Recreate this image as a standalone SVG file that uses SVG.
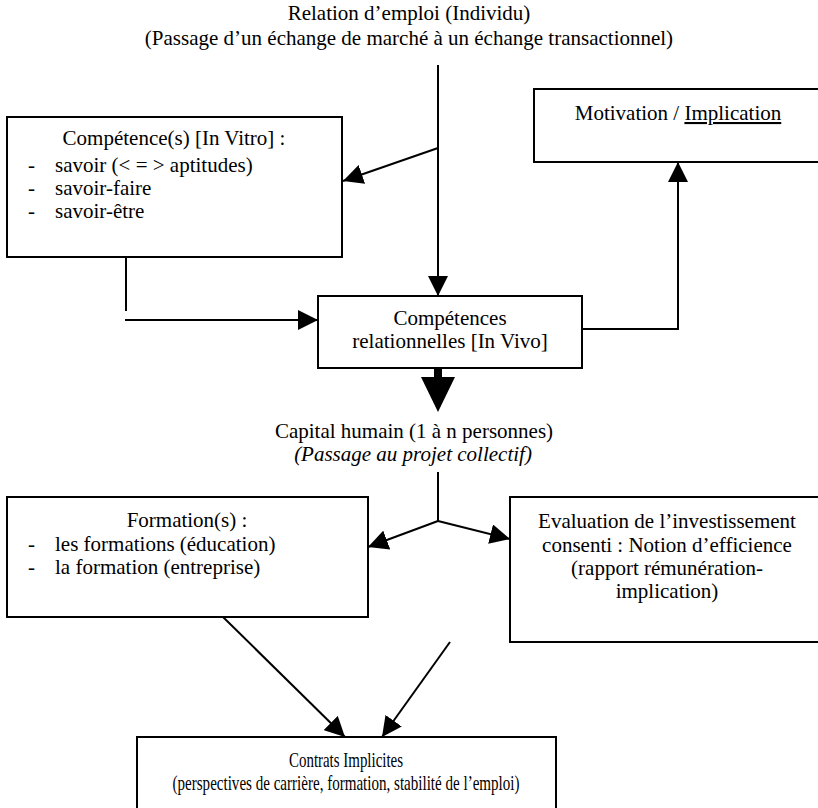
<svg xmlns="http://www.w3.org/2000/svg" width="818" height="808" viewBox="0 0 818 808">
<style>
text{font-family:"Liberation Serif","Tinos","Times New Roman","DejaVu Serif",serif;font-size:21px;fill:#000}
.c{text-anchor:middle}
.box{fill:#fff;stroke:#000;stroke-width:2}
.ln{fill:none;stroke:#000;stroke-width:2}
.ar{marker-end:url(#ah)}
</style>
<defs>
<marker id="ah" markerUnits="userSpaceOnUse" viewBox="0 0 20 20" refX="20" refY="10" markerWidth="20" markerHeight="20" orient="auto">
<path d="M0,0 L20,10 L0,20 z" fill="#000"/>
</marker>
</defs>
<rect width="818" height="808" fill="#fff"/>
<g id="title" font-family="Liberation Serif, serif">
<text class="c" x="409" y="20">Relation d’emploi (Individu)</text>
<text class="c" x="409" y="45">(Passage d’un échange de marché à un échange transactionnel)</text>
</g>
<g id="connectors">
<line class="ln ar" x1="438" y1="65" x2="438" y2="296"/>
<line class="ln ar" x1="438" y1="148" x2="343" y2="181"/>
<polyline class="ln ar" points="582,329 678,329 678,162"/>
<line class="ln" x1="126" y1="257" x2="126" y2="311"/>
<line class="ln ar" x1="125" y1="320" x2="318" y2="320"/>
<line x1="438" y1="366" x2="438" y2="380" stroke="#000" stroke-width="8" stroke-linecap="round"/>
<polygon points="421,377 455,377 438,412" fill="#000"/>
<line class="ln" x1="438" y1="472" x2="438" y2="521"/>
<line class="ln ar" x1="438" y1="521" x2="510" y2="539"/>
<line class="ln ar" x1="438" y1="521" x2="368" y2="547"/>
<line class="ln ar" x1="223" y1="617" x2="345" y2="737"/>
<line class="ln ar" x1="450" y1="642" x2="382" y2="737"/>
</g>
<g id="competence">
<rect class="box" x="7" y="117" width="335" height="140"/>
<text class="c" x="174" y="145">Compétence(s) [In Vitro] :</text>
<text x="28" y="172">-</text><text x="55" y="172">savoir (&lt; = &gt; aptitudes)</text>
<text x="28" y="195">-</text><text x="55" y="195">savoir-faire</text>
<text x="28" y="218">-</text><text x="55" y="218">savoir-être</text>
</g>
<g id="motivation">
<rect class="box" x="534" y="89" width="300" height="73"/>
<text class="c" x="678" y="120">Motivation / <tspan text-decoration="underline">Implication</tspan></text>
</g>
<g id="relationnelles">
<rect class="box" x="318" y="296" width="264" height="72"/>
<text class="c" x="450" y="325">Compétences</text>
<text class="c" x="450" y="348">relationnelles [In Vivo]</text>
</g>
<g id="capital">
<text class="c" x="414" y="438">Capital humain (1 à n personnes)</text>
<text class="c" x="413" y="461" font-style="italic">(Passage au projet collectif)</text>
</g>
<g id="formation">
<rect class="box" x="7" y="497" width="361" height="120"/>
<text class="c" x="187" y="527">Formation(s) :</text>
<text x="28" y="551">-</text><text x="55" y="551">les formations (éducation)</text>
<text x="28" y="574">-</text><text x="55" y="574">la formation (entreprise)</text>
</g>
<g id="evaluation">
<rect class="box" x="510" y="497" width="320" height="145"/>
<text class="c" x="667" y="528">Evaluation de l’investissement</text>
<text class="c" x="667" y="552">consenti : Notion d’efficience</text>
<text class="c" x="667" y="575">(rapport rémunération-</text>
<text class="c" x="667" y="598">implication)</text>
</g>
<g id="contrats">
<rect class="box" x="137" y="737" width="419" height="90"/>
<text class="c" x="346" y="767" textLength="114" lengthAdjust="spacingAndGlyphs">Contrats Implicites</text>
<text class="c" x="346" y="790" textLength="347" lengthAdjust="spacingAndGlyphs">(perspectives de carrière, formation, stabilité de l’emploi)</text>
</g>
</svg>
